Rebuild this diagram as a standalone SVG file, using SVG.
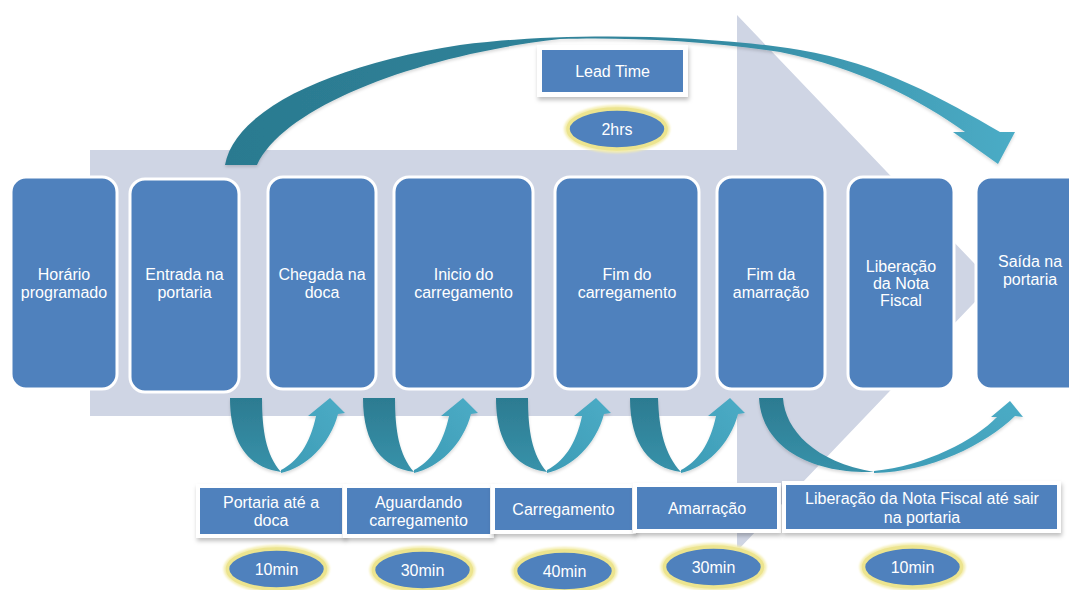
<svg xmlns="http://www.w3.org/2000/svg" width="1069" height="590" viewBox="0 0 1069 590">
  <defs>
    <linearGradient id="gBig" gradientUnits="userSpaceOnUse" x1="225" y1="0" x2="1015" y2="0">
      <stop offset="0" stop-color="#2b7a90"/>
      <stop offset="0.55" stop-color="#31859c"/>
      <stop offset="1" stop-color="#4bacc6"/>
    </linearGradient>
    <linearGradient id="gDown" x1="0" y1="0" x2="0" y2="1">
      <stop offset="0" stop-color="#2c7b91"/>
      <stop offset="1" stop-color="#3892aa"/>
    </linearGradient>
    <linearGradient id="gUp" x1="0" y1="1" x2="1" y2="0">
      <stop offset="0" stop-color="#3d9bb5"/>
      <stop offset="1" stop-color="#4bacc6"/>
    </linearGradient>
    <filter id="shadow" x="-10%" y="-20%" width="125%" height="160%">
      <feDropShadow dx="1" dy="3" stdDeviation="2" flood-color="#000" flood-opacity="0.25"/>
    </filter>
    <filter id="soft" x="-10%" y="-10%" width="120%" height="130%">
      <feDropShadow dx="0" dy="2" stdDeviation="1.5" flood-color="#000" flood-opacity="0.15"/>
    </filter>
    <filter id="glow" x="-20%" y="-30%" width="140%" height="160%">
      <feGaussianBlur stdDeviation="1.2"/>
    </filter>
  </defs>
  <style>
    text { font-family: "Liberation Sans", Arial, sans-serif; font-size: 16px; fill: #ffffff; text-anchor: middle; }
    .step { fill: #4f81bd; stroke: #ffffff; stroke-width: 3; }
    .frame { fill: #ffffff; }
    .label { fill: #4f81bd; }
    .halo { fill: #f4eeb0; }
    .pill { fill: #4f81bd; stroke: #ece48f; stroke-width: 3.5; }
    .down { fill: url(#gDown); }
    .up { fill: url(#gUp); }
  </style>

  <rect width="1069" height="590" fill="#ffffff"/>

  <!-- background process arrow -->
  <polygon id="flow-arrow" points="90,150 737,150 737,15 993,283 737,551 737,416 90,416" fill="#cfd5e4"/>

  <!-- connectors -->
  <g id="connectors" filter="url(#soft)">
    <!-- overall lead time arc -->
    <path d="M225,165 C235,110 330,65 460,45 C560,32 700,34 800,50 C880,63 945,100 1000,132 L1015,132 L998,164 L953,132 L965,132 C920,100 860,68 780,52 C700,40 620,37 560,39 C420,55 285,105 257,165 Z" fill="url(#gBig)"/>

    <!-- step-to-step U arrows -->
    <g id="u1">
      <path class="down" d="M230,398 L262,398 C262,430 266,455 281,472 C250,468 230,445 230,398 Z"/>
      <path class="up" d="M281,473 C305,468 330,445 338,414 L345,413 L330,398 L308,416 L316,416 C310,445 297,462 281,470 Z"/>
    </g>
    <g id="u2" transform="translate(133,0)">
      <path class="down" d="M230,398 L262,398 C262,430 266,455 281,472 C250,468 230,445 230,398 Z"/>
      <path class="up" d="M281,473 C305,468 330,445 338,414 L345,413 L330,398 L308,416 L316,416 C310,445 297,462 281,470 Z"/>
    </g>
    <g id="u3" transform="translate(266,0)">
      <path class="down" d="M230,398 L262,398 C262,430 266,455 281,472 C250,468 230,445 230,398 Z"/>
      <path class="up" d="M281,473 C305,468 330,445 338,414 L345,413 L330,398 L308,416 L316,416 C310,445 297,462 281,470 Z"/>
    </g>
    <g id="u4" transform="translate(400,0)">
      <path class="down" d="M230,398 L258,398 C259,430 265,455 281,472 C250,468 230,445 230,398 Z"/>
      <path class="up" d="M281,473 C305,468 330,445 338,414 L345,413 L330,398 L308,416 L316,416 C310,445 297,462 281,470 Z"/>
    </g>
    <g id="u5">
      <path class="down" d="M759,398 L783,398 C785,430 815,462 874,472 C815,474 762,450 759,398 Z"/>
      <path class="up" d="M874,473 C930,472 985,445 1015,416 L1023,417 L1010,401 L991,417 L997,417 C975,440 925,466 874,471 Z"/>
    </g>
  </g>

  <!-- process steps -->
  <g id="step-horario">
    <rect class="step" x="11" y="177" width="106" height="212" rx="15"/>
    <text x="64" y="280">Horário</text>
    <text x="64" y="297.5">programado</text>
  </g>
  <g id="step-entrada">
    <rect class="step" x="130" y="179" width="109" height="213" rx="15"/>
    <text x="184.5" y="280">Entrada na</text>
    <text x="184.5" y="297.5">portaria</text>
  </g>
  <g id="step-chegada">
    <rect class="step" x="268" y="177" width="108" height="212" rx="15"/>
    <text x="322" y="280">Chegada na</text>
    <text x="322" y="297.5">doca</text>
  </g>
  <g id="step-inicio">
    <rect class="step" x="394" y="177" width="139" height="212" rx="15"/>
    <text x="463.5" y="280">Inicio do</text>
    <text x="463.5" y="297.5">carregamento</text>
  </g>
  <g id="step-fim-carregamento">
    <rect class="step" x="555" y="177" width="144" height="212" rx="15"/>
    <text x="627" y="280">Fim do</text>
    <text x="627" y="297.5">carregamento</text>
  </g>
  <g id="step-fim-amarracao">
    <rect class="step" x="717" y="177" width="108" height="212" rx="15"/>
    <text x="771" y="280">Fim da</text>
    <text x="771" y="297.5">amarração</text>
  </g>
  <g id="step-liberacao">
    <rect class="step" x="848" y="177" width="106" height="212" rx="15"/>
    <text x="901" y="272">Liberação</text>
    <text x="901" y="289">da Nota</text>
    <text x="901" y="306">Fiscal</text>
  </g>
  <g id="step-saida">
    <rect class="step" x="976" y="177" width="108" height="212" rx="15"/>
    <text x="1030" y="267">Saída na</text>
    <text x="1030" y="285">portaria</text>
  </g>

  <!-- lead time label -->
  <g id="lead-time">
    <rect class="frame" x="537" y="45" width="151" height="52" filter="url(#shadow)"/>
    <rect class="label" x="542" y="50" width="141" height="42"/>
    <text x="612.5" y="77">Lead Time</text>
  </g>
  <g id="lead-time-value">
    <ellipse class="halo" cx="617" cy="129" rx="53" ry="24" filter="url(#glow)"/>
    <ellipse class="pill" cx="617" cy="129" rx="49" ry="20"/>
    <text x="617" y="135">2hrs</text>
  </g>

  <!-- interval labels -->
  <g id="int-portaria">
    <rect class="frame" x="196" y="484" width="150" height="54" filter="url(#shadow)"/>
    <rect class="label" x="200" y="488" width="142" height="46"/>
    <text x="271" y="507.5">Portaria até a</text>
    <text x="271" y="525.5">doca</text>
  </g>
  <g id="int-aguardando">
    <rect class="frame" x="343" y="484" width="151" height="54" filter="url(#shadow)"/>
    <rect class="label" x="347" y="488" width="143" height="46"/>
    <text x="418.5" y="507.5">Aguardando</text>
    <text x="418.5" y="525.5">carregamento</text>
  </g>
  <g id="int-carregamento">
    <rect class="frame" x="491" y="484" width="145" height="50" filter="url(#shadow)"/>
    <rect class="label" x="495" y="488" width="137" height="42"/>
    <text x="563.5" y="514.5">Carregamento</text>
  </g>
  <g id="int-amarracao">
    <rect class="frame" x="633" y="483" width="148" height="50" filter="url(#shadow)"/>
    <rect class="label" x="637" y="487" width="140" height="42"/>
    <text x="707" y="514">Amarração</text>
  </g>
  <g id="int-liberacao">
    <rect class="frame" x="782" y="481" width="279" height="52" filter="url(#shadow)"/>
    <rect class="label" x="786" y="485" width="271" height="44"/>
    <text x="922" y="503.5">Liberação da Nota Fiscal até sair</text>
    <text x="922" y="522.5">na portaria</text>
  </g>

  <!-- interval durations -->
  <g id="dur-10a">
    <ellipse class="halo" cx="276.5" cy="569" rx="53" ry="24" filter="url(#glow)"/>
    <ellipse class="pill" cx="276.5" cy="569" rx="49" ry="20"/>
    <text x="276.5" y="575">10min</text>
  </g>
  <g id="dur-30a">
    <ellipse class="halo" cx="422.5" cy="570" rx="53" ry="24" filter="url(#glow)"/>
    <ellipse class="pill" cx="422.5" cy="570" rx="49" ry="20"/>
    <text x="422.5" y="576">30min</text>
  </g>
  <g id="dur-40">
    <ellipse class="halo" cx="564.5" cy="571" rx="53" ry="24" filter="url(#glow)"/>
    <ellipse class="pill" cx="564.5" cy="571" rx="49" ry="20"/>
    <text x="564.5" y="577">40min</text>
  </g>
  <g id="dur-30b">
    <ellipse class="halo" cx="713.5" cy="567" rx="53" ry="24" filter="url(#glow)"/>
    <ellipse class="pill" cx="713.5" cy="567" rx="49" ry="20"/>
    <text x="713.5" y="573">30min</text>
  </g>
  <g id="dur-10b">
    <ellipse class="halo" cx="912.5" cy="567" rx="53" ry="24" filter="url(#glow)"/>
    <ellipse class="pill" cx="912.5" cy="567" rx="49" ry="20"/>
    <text x="912.5" y="573">10min</text>
  </g>
</svg>
